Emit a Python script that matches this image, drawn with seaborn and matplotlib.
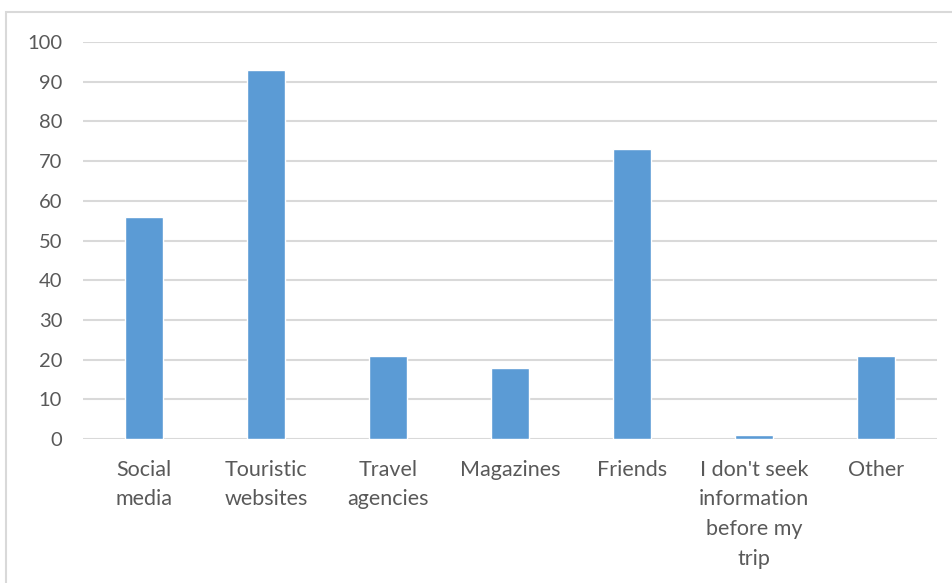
import matplotlib
matplotlib.use("Agg")
import matplotlib.pyplot as plt
import seaborn as sns
import pandas as pd
from matplotlib.patches import Rectangle

categories = ["Social\nmedia", "Touristic\nwebsites", "Travel\nagencies", "Magazines",
              "Friends", "I don't seek\ninformation\nbefore my\ntrip", "Other"]
values = [56, 93, 21, 18, 73, 1, 21]
yticks = [0, 10, 20, 30, 40, 50, 60, 70, 80, 90, 100]

sns.set_theme(style="white")
plt.rcParams["font.family"] = ["Lato", "DejaVu Sans"]

df = pd.DataFrame({"cat": categories, "val": values})

fig = plt.figure(figsize=(9.52, 5.83), dpi=100)
ax = fig.add_axes([83/952, 1-439/583, (937-83)/952, (439-42)/583])

sns.barplot(data=df, x="cat", y="val", color="#5b9bd5", width=0.31,
            saturation=1, ax=ax, zorder=3)

ax.set_ylim(0, 100)
ax.set_yticks(yticks)
ax.set_xlim(-0.5, len(categories) - 0.5)
ax.yaxis.grid(True, color="#d9d9d9", linewidth=1.5, zorder=0)
ax.set_axisbelow(True)
for s in ax.spines.values():
    s.set_visible(False)
ax.set_xlabel("")
ax.set_ylabel("")
ax.tick_params(axis="both", length=0, colors="#595959")
ax.tick_params(axis="y", pad=15, labelsize=14.5)
ax.tick_params(axis="x", pad=15, labelsize=15.5)
for lbl in ax.get_xticklabels():
    lbl.set_linespacing(1.6)
    lbl.set_verticalalignment("top")

fig.patches.append(Rectangle((6/952, -0.1), 1.2, 1 - 12/583 + 0.1,
                             transform=fig.transFigure, fill=False,
                             edgecolor="#d9d9d9", linewidth=1.5, zorder=0))

fig.savefig("out.png", dpi=100)
